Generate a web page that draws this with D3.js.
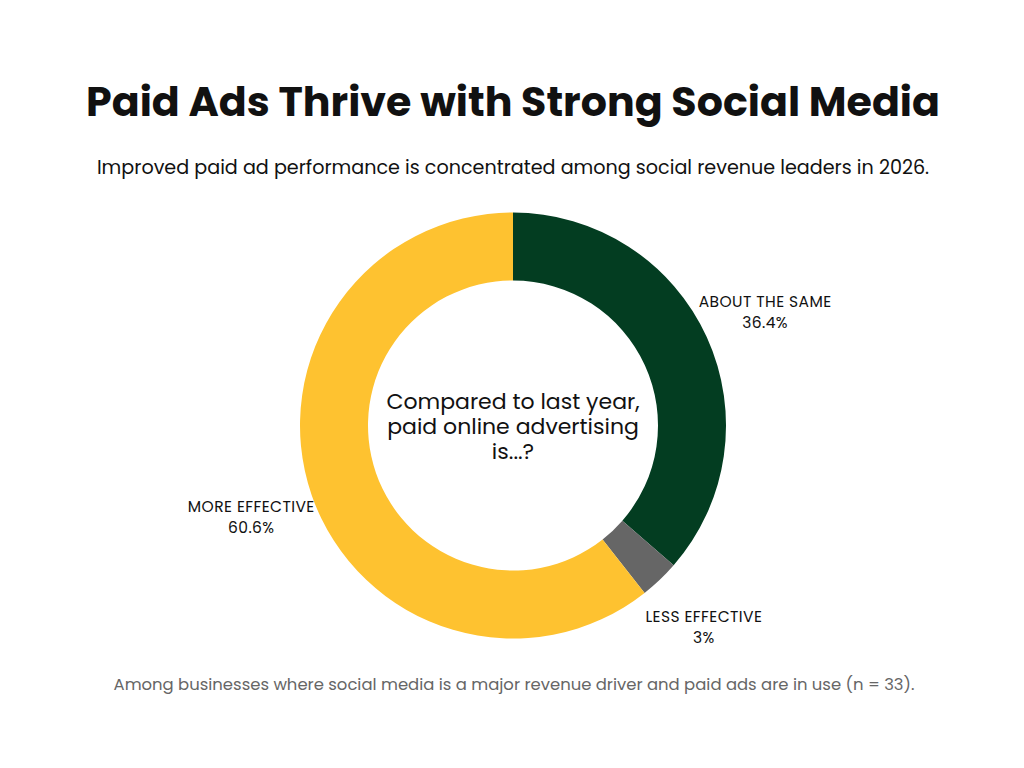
<!DOCTYPE html>
<html>
<head>
<meta charset="utf-8">
<script src="https://cdn.jsdelivr.net/npm/d3@7"></script>
<style>
  body { margin: 0; background: #fff; }
  text { font-family: Poppins, Inter, "Open Sans", sans-serif; fill: #111; }
</style>
</head>
<body>
<div id="chart"></div>
<script>
let width = 1024, height = 768;

let categories = ["ABOUT THE SAME", "LESS EFFECTIVE", "MORE EFFECTIVE"];
let values = [36.4, 3.0, 60.6];
let valueLabels = ["36.4%", "3%", "60.6%"];
let colorList = ["#033d21", "#666666", "#fec230"];
let centerLines = ["Compared to last year,", "paid online advertising", "is...?"];

let titleText = "Paid Ads Thrive with Strong Social Media";
let subtitleText = "Improved paid ad performance is concentrated among social revenue leaders in 2026.";
let footText = "Among businesses where social media is a major revenue driver and paid ads are in use (n = 33).";

let cx = 513, cy = 425.5;
let outerR = 213, innerR = 145, labelR = 277;

let svg = d3.select("#chart")
    .append("svg")
    .attr("width", width)
    .attr("height", height);

// fit a text element to a target width by adjusting its font-size
function fitWidth(sel, target) {
    let w = sel.node().getComputedTextLength();
    let fs = parseFloat(sel.attr("font-size"));
    sel.attr("font-size", fs * target / w);
}

let title = svg.append("text")
    .attr("text-anchor", "middle")
    .attr("x", 513)
    .attr("y", 116)
    .attr("font-size", 40)
    .attr("font-weight", 700)
    .text(titleText);
fitWidth(title, 854);

let subtitle = svg.append("text")
    .attr("text-anchor", "middle")
    .attr("x", 513)
    .attr("y", 174)
    .attr("font-size", 19)
    .text(subtitleText);
fitWidth(subtitle, 833);

let foot = svg.append("text")
    .attr("text-anchor", "middle")
    .attr("x", 514)
    .attr("y", 690)
    .attr("font-size", 16)
    .style("fill", "#666")
    .text(footText);
fitWidth(foot, 802);

let data = categories.map(function(c, i) {
    return {cat: c, value: values[i], label: valueLabels[i], color: colorList[i]};
});

let pie = d3.pie()
    .sort(null)
    .value(function(d) { return d.value; });

let arc = d3.arc()
    .innerRadius(innerR)
    .outerRadius(outerR);

let labelArc = d3.arc()
    .innerRadius(labelR)
    .outerRadius(labelR);

let g = svg.append("g")
    .attr("transform", "translate(" + cx + "," + cy + ")");

let arcs = pie(data);

g.selectAll(".slice")
    .data(arcs)
    .enter()
    .append("path")
    .attr("class", "slice")
    .attr("d", arc)
    .attr("fill", function(d) { return d.data.color; });

let labels = g.selectAll(".lbl")
    .data(arcs)
    .enter()
    .append("text")
    .attr("class", "lbl")
    .attr("text-anchor", "middle")
    .attr("font-size", 15.5)
    .style("letter-spacing", "0.4px")
    .attr("transform", function(d) {
        let c = labelArc.centroid(d);
        return "translate(" + c[0] + "," + c[1] + ")";
    });

labels.append("tspan")
    .attr("x", 0)
    .attr("y", -4)
    .text(function(d) { return d.data.cat; });

labels.append("tspan")
    .attr("x", 0)
    .attr("y", 17)
    .text(function(d) { return d.data.label; });

let center = g.append("text")
    .attr("text-anchor", "middle")
    .attr("font-size", 22);

center.selectAll("tspan")
    .data(centerLines)
    .enter()
    .append("tspan")
    .attr("x", 0)
    .attr("y", function(d, i) { return -17 + i * 25; })
    .text(function(d) { return d; });
</script>
</body>
</html>
